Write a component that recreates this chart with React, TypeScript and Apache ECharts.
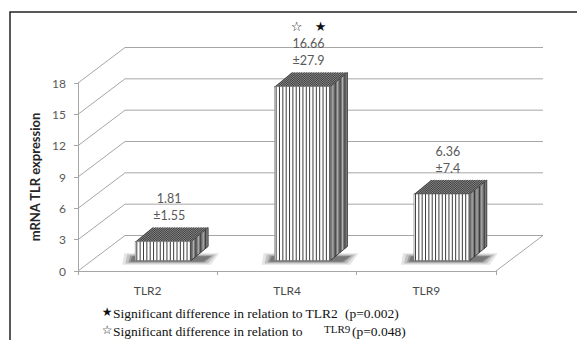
import React, { useEffect, useRef } from 'react';
import * as echarts from 'echarts';

const categories = ['TLR2', 'TLR4', 'TLR9'];
const means = [1.81, 16.66, 6.36];
const sds = [1.55, 27.9, 7.4];
const significance = ['', '\u2606   \u2605', ''];
const gridValues = [0, 3, 6, 9, 12, 15, 18];
const yMin = 0;
const yMax = 18;
const yStep = 3;

// oblique projection (layout constants)
const DX = 47;
const DY = 35.5;
const BAR_OX = 15.5;
const BAR_OY = 10.5;
const BAR_DX = 17;
const BAR_DY = 14;
const BAR_W = 0.4;
const GRID_COLOR = '#a6a6a6';
const LABEL_FONT = 'Lato, "Noto Sans", sans-serif';
const SERIF = '"Liberation Serif", "DejaVu Serif", serif';
const SYMBOL_FONT = '"DejaVu Sans", sans-serif';

function renderGrid(params: any, api: any) {
  const cs = params.coordSys;
  const v = api.value(1);
  const y = api.coord([0, v])[1];
  const left = cs.x;
  const right = cs.x + cs.width;
  const children: any[] = [
    {
      type: 'polyline',
      shape: { points: [[left, y], [left + DX, y - DY], [right + DX, y - DY]] },
      style: { stroke: GRID_COLOR, lineWidth: 1, fill: null },
    },
  ];
  if (v === 0) {
    children.push({
      type: 'line',
      shape: { x1: right + DX, y1: y - DY, x2: right, y2: y },
      style: { stroke: GRID_COLOR, lineWidth: 1 },
    });
  }
  return { type: 'group', children };
}

function renderBar(params: any, api: any) {
  const i = api.value(0);
  const v = api.value(1);
  const idx = params.dataIndex;
  const top = api.coord([i, v]);
  const base = api.coord([i, 0]);
  const band = api.size([1, 0])[0];
  const w = band * BAR_W;
  const xl = top[0] - w / 2 + BAR_OX;
  const xr = xl + w;
  const yt = top[1] - BAR_OY;
  const yb = base[1] - BAR_OY;
  const dx = BAR_DX;
  const dy = BAR_DY;
  const children: any[] = [];

  // soft shadow at base (stacked layers)
  const layers = [
    { g: 9, a: 0.12 },
    { g: 6, a: 0.18 },
    { g: 3, a: 0.25 },
    { g: 1, a: 0.3 },
  ];
  layers.forEach(({ g, a }) => {
    children.push({
      type: 'polygon',
      shape: {
        points: [
          [xl - 4 - g, yb + 1 + g * 0.35],
          [xr + dx - 6 + g, yb + 1 + g * 0.35],
          [xr + dx + 2 + g, yb - 4 - g * 0.35],
          [xl - 2 - g, yb - 4 - g * 0.35],
        ],
      },
      style: { fill: `rgba(40,40,40,${a})` },
    });
  });

  // side face
  children.push({
    type: 'polygon',
    shape: { points: [[xr, yt], [xr + dx, yt - dy], [xr + dx, yb - dy], [xr, yb]] },
    style: { fill: '#7a7a7a' },
  });
  const sideN = 7;
  for (let k = 0; k <= sideN; k++) {
    const t = k / sideN;
    const x = xr + t * dx;
    children.push({
      type: 'line',
      shape: { x1: x, y1: yt - t * dy, x2: x, y2: yb - t * dy },
      style: { stroke: k % 2 === 0 ? '#3a3a3a' : '#b0b0b0', lineWidth: 1 },
    });
  }

  // top face
  children.push({
    type: 'polygon',
    shape: { points: [[xl, yt], [xr, yt], [xr + dx, yt - dy], [xl + dx, yt - dy]] },
    style: { fill: '#8a8a8a' },
  });
  for (let x = xl + 1; x <= xr; x += 2.4) {
    children.push({
      type: 'line',
      shape: { x1: x, y1: yt, x2: x + dx, y2: yt - dy },
      style: { stroke: '#333333', lineWidth: 0.9 },
    });
  }
  children.push({
    type: 'polygon',
    shape: { points: [[xl, yt], [xr, yt], [xr + dx, yt - dy], [xr + dx, yb - dy], [xr, yb]] },
    style: { fill: null, stroke: '#2a2a2a', lineWidth: 0.8 },
  });

  // front face
  children.push({
    type: 'rect',
    shape: { x: xl, y: yt, width: w, height: yb - yt },
    style: { fill: '#ffffff', stroke: '#777', lineWidth: 0.6 },
  });
  for (let x = xl + 1.5; x < xr; x += 3.35) {
    children.push({
      type: 'line',
      shape: { x1: x, y1: yt, x2: x, y2: yb },
      style: { stroke: '#3c3c3c', lineWidth: 1 },
    });
  }

  // labels
  const lx = (xl + xr) / 2 + 6;
  children.push({
    type: 'text',
    x: lx,
    y: yt - 43,
    style: { text: String(means[idx]), align: 'center', verticalAlign: 'middle', fill: '#595959', fontSize: 12.5, fontFamily: LABEL_FONT },
  });
  children.push({
    type: 'text',
    x: lx,
    y: yt - 26,
    style: { text: '\u00b1' + sds[idx], align: 'center', verticalAlign: 'middle', fill: '#595959', fontSize: 12.5, fontFamily: LABEL_FONT },
  });
  if (significance[idx]) {
    children.push({
      type: 'text',
      x: lx,
      y: yt - 60,
      style: { text: significance[idx], align: 'center', verticalAlign: 'middle', fill: '#111', fontSize: 13, fontFamily: SYMBOL_FONT },
    });
  }
  return { type: 'group', children };
}

function footText(x: number, y: number, text: string, size: number, family: string, align = 'left') {
  return {
    type: 'text',
    x,
    y,
    silent: true,
    style: { text, align, verticalAlign: 'middle', fill: '#111', fontSize: size, fontFamily: family, fontWeight: 'normal' },
  };
}

export default function App() {
  const ref = useRef<HTMLDivElement>(null);
  useEffect(() => {
    const chart = echarts.init(ref.current!, null, { renderer: 'svg' });
    const option: any = {
      animation: false,
      backgroundColor: '#ffffff',
      grid: { left: 78, top: 83, width: 418, height: 188 },
      xAxis: {
        type: 'category',
        data: categories,
        boundaryGap: true,
        axisLine: { show: true, lineStyle: { color: GRID_COLOR, width: 1 } },
        axisTick: { show: true, length: 4, lineStyle: { color: GRID_COLOR } },
        axisLabel: { color: '#4a4a4a', fontSize: 12, fontWeight: 'normal', fontFamily: LABEL_FONT, margin: 13 },
        splitLine: { show: false },
      },
      yAxis: {
        type: 'value',
        min: yMin,
        max: yMax,
        interval: yStep,
        name: 'mRNA TLR expression',
        nameLocation: 'middle',
        nameGap: 27,
        nameTextStyle: { color: '#262626', fontSize: 13, fontWeight: 'bold', fontFamily: LABEL_FONT },
        axisLine: { show: true, lineStyle: { color: GRID_COLOR, width: 1 } },
        axisTick: { show: true, length: 4, lineStyle: { color: GRID_COLOR } },
        axisLabel: { color: '#595959', fontSize: 12, fontWeight: 'normal', fontFamily: LABEL_FONT, margin: 12 },
        splitLine: { show: false },
      },
      series: [
        {
          type: 'custom',
          renderItem: renderGrid,
          data: gridValues.map((v) => [0, v]),
          silent: true,
          z: 1,
        },
        {
          type: 'custom',
          renderItem: renderBar,
          data: means.map((m, i) => [i, m]),
          z: 2,
        },
      ],
      graphic: [
        {
          type: 'rect',
          shape: { x: 10, y: 12, width: 620, height: 400 },
          style: { fill: null, stroke: '#222', lineWidth: 1.5 },
          silent: true,
          z: 0,
        },
        footText(107, 312, '\u2605', 12, SYMBOL_FONT, 'center'),
        footText(113, 313, 'Significant difference in relation to TLR2', 13.5, SERIF),
        footText(345, 313, '(p=0.002)', 13.5, SERIF),
        footText(107, 330, '\u2606', 12, SYMBOL_FONT, 'center'),
        footText(113, 331, 'Significant difference in relation to', 13.5, SERIF),
        footText(324, 329, 'TLR9', 11, SERIF),
        footText(352, 331, '(p=0.048)', 13.5, SERIF),
      ],
    };
    chart.setOption(option);
    return () => chart.dispose();
  }, []);
  return (
    <div
      ref={ref}
      style={{ position: 'fixed', left: 0, top: 0, width: 577, height: 340, background: '#fff' }}
    />
  );
}
